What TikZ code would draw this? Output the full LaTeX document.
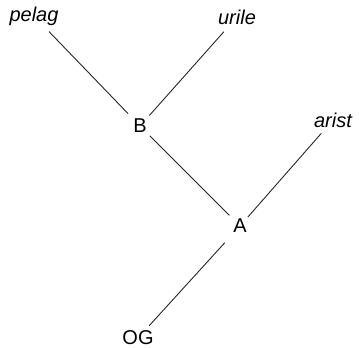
\documentclass[tikz,border=0pt]{standalone}
\usepackage{fontspec}
\setmainfont{Liberation Sans}
\begin{document}
\begin{tikzpicture}[x=1pt,y=-1pt,
  lbl/.style={inner sep=0pt, font=\fontsize{20}{24}\selectfont},
  leaf/.style={lbl, font=\fontsize{20}{24}\selectfont\itshape},
  edge/.style={draw=black!85, line width=0.9pt}]
\useasboundingbox (0,0) rectangle (359,348);
\node[leaf] (pelag) at (34,16) {pelag};
\node[leaf] (urile) at (237,17) {urile};
\node[lbl] (B) at (140,126) {B};
\node[leaf] (arist) at (333,120) {arist};
\node[lbl] (A) at (240,226) {A};
\node[lbl] (OG) at (138,338) {OG};
\draw[edge, shorten <=21.6pt, shorten >=17.2pt] (pelag.center) -- (B.center);
\draw[edge, shorten <=19.7pt, shorten >=14pt] (urile.center) -- (B.center);
\draw[edge, shorten <=13.9pt, shorten >=15pt] (B.center) -- (A.center);
\draw[edge, shorten <=17.7pt, shorten >=12pt] (arist.center) -- (A.center);
\draw[edge, shorten <=22.6pt, shorten >=16.5pt] (A.center) -- (OG.center);
\end{tikzpicture}
\end{document}
